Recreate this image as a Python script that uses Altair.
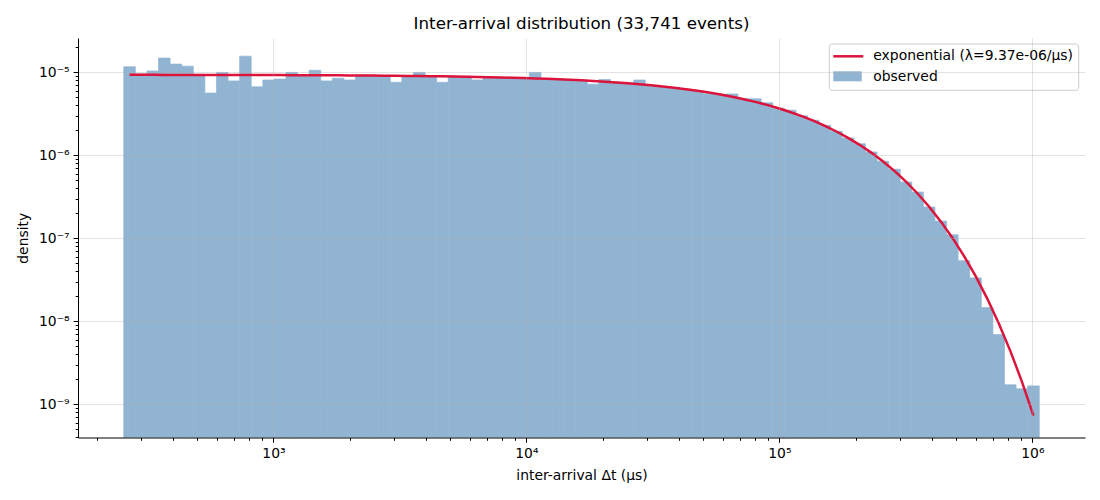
import numpy as np
import pandas as pd
import altair as alt

# ---------------- data ----------------
N_BINS = 79
EDGE_LO = 256.0        # left edge of first bin (µs)
EDGE_HI = 1.065e6      # right edge of last bin (µs)
LAMBDA = 9.37e-6       # fitted rate (1/µs), from the legend

density = [
    1.17e-5, 9.6e-6, 1.04e-5, 1.49e-5, 1.26e-5, 1.19e-5, 9.5e-6, 5.64e-6, 1.0e-5, 7.9e-6,
    1.57e-5, 6.7e-6, 8.1e-6, 8.3e-6, 1.0e-5, 9.4e-6, 1.06e-5, 7.9e-6, 8.5e-6, 8.1e-6,
    9.3e-6, 9.2e-6, 9.2e-6, 7.6e-6, 8.8e-6, 1.0e-5, 9.1e-6, 7.6e-6, 8.9e-6, 9.0e-6,
    8.1e-6, 8.8e-6, 8.7e-6, 8.7e-6, 8.6e-6, 1.0e-5, 8.4e-6, 8.3e-6, 8.1e-6, 8.0e-6,
    7.2e-6, 8.2e-6, 7.6e-6, 7.4e-6, 8.1e-6, 7.0e-6, 6.65e-6, 6.5e-6, 6.3e-6, 6.0e-6,
    5.52e-6, 5.4e-6, 5.5e-6, 4.8e-6, 4.8e-6, 4.3e-6, 3.7e-6, 3.5e-6, 3.0e-6, 2.65e-6,
    2.3e-6, 1.95e-6, 1.62e-6, 1.38e-6, 1.1e-6, 8.5e-7, 6.8e-7, 4.77e-7, 3.61e-7, 2.38e-7,
    1.61e-7, 1.10e-7, 5.37e-8, 3.33e-8, 1.46e-8, 6.9e-9, 1.71e-9, 1.53e-9, 1.66e-9,
]

TITLE = "Inter-arrival distribution (33,741 events)"
X_TITLE = "inter-arrival Δt (µs)"
Y_TITLE = "density"
LINE_LABEL = "exponential (λ=9.37e-06/µs)"
BAR_LABEL = "observed"

X_DOMAIN = [168.8, 1.615e6]
Y_DOMAIN = [3.96e-10, 2.6e-5]

# ---------------- derived tables ----------------
edges = np.logspace(np.log10(EDGE_LO), np.log10(EDGE_HI), N_BINS + 1)
centers = np.sqrt(edges[:-1] * edges[1:])
bars = pd.DataFrame({"lo": edges[:-1], "hi": edges[1:], "dens": density,
                     "base": [1e-12] * N_BINS})
fit = pd.DataFrame({"t": centers, "f": LAMBDA * np.exp(-LAMBDA * centers)})

FONT = "DejaVu Sans"
BAR_COLOR = "#91b4d2"
SUP = str.maketrans("-0123456789", "⁻⁰¹²³⁴⁵⁶⁷⁸⁹")
MAJOR = "abs(log(datum.value)/LN10 - round(log(datum.value)/LN10)) < 0.001"


def label_expr(exps):
    s = ""
    for e in exps:
        s += f"round(log(datum.value)/LN10) == {e} ? '10{str(e).translate(SUP)}' : "
    s += "''"
    return f"({MAJOR}) ? ({s}) : ''"


def ticks(lo_e, hi_e, dom):
    vals = []
    for e in range(lo_e, hi_e + 1):
        for m in range(1, 10):
            v = float(f"{m}e{e}")
            if dom[0] <= v <= dom[1]:
                vals.append(v)
    return vals


def make_axis(vals, exps, title, **kw):
    return alt.Axis(
        values=vals, labelExpr=label_expr(exps), title=title,
        grid=True,
        gridColor="#b0b0b0",
        gridOpacity={"condition": {"test": MAJOR, "value": 0.35}, "value": 0},
        tickSize={"condition": {"test": MAJOR, "value": 4.9}, "value": 2.8},
        tickColor="black", domainColor="black", tickWidth=1, domainWidth=1,
        labelColor="black", labelFont=FONT, labelFontSize=13.9,
        titleFont=FONT, titleFontSize=13.9, titleFontWeight="normal", titleColor="black",
        labelOverlap=False, labelFlush=False, zindex=1, **kw)


x_scale = alt.Scale(type="log", domain=X_DOMAIN, nice=False, zero=False)
y_scale = alt.Scale(type="log", domain=Y_DOMAIN, nice=False, zero=False)

bar_layer = alt.Chart(bars).mark_rect(color=BAR_COLOR, stroke=BAR_COLOR, strokeWidth=0.7,
                                      clip=True).encode(
    x=alt.X("lo:Q", scale=x_scale,
            axis=make_axis(ticks(2, 6, X_DOMAIN), [3, 4, 5, 6], X_TITLE,
                           labelPadding=4, titlePadding=8)),
    x2="hi:Q",
    y=alt.Y("dens:Q", scale=y_scale,
            axis=make_axis(ticks(-10, -5, Y_DOMAIN), [-9, -8, -7, -6, -5], Y_TITLE,
                           labelPadding=4, titlePadding=8)),
    y2="base:Q",
)

line_layer = alt.Chart(fit).mark_line(color="#dc143c", strokeWidth=2.5, clip=True).encode(
    x=alt.X("t:Q", scale=x_scale),
    y=alt.Y("f:Q", scale=y_scale),
)

one = pd.DataFrame({"a": [0]})
leg_box = alt.Chart(one).mark_rect(fill="white", fillOpacity=0.8, stroke="#cccccc",
                                   strokeWidth=1, cornerRadius=3).encode(
    x=alt.value(751.3), x2=alt.value(1000.7), y=alt.value(6), y2=alt.value(52.3))
leg_line = alt.Chart(one).mark_rule(color="#dc143c", strokeWidth=2.5).encode(
    x=alt.value(755.3), x2=alt.value(785.3), y=alt.value(18.3))
leg_rect = alt.Chart(one).mark_rect(color=BAR_COLOR).encode(
    x=alt.value(755.3), x2=alt.value(783.7), y=alt.value(33.3), y2=alt.value(43.3))
leg_t1 = alt.Chart(one).mark_text(align="left", baseline="middle", font=FONT,
                                  fontSize=13.9, color="black").encode(
    x=alt.value(795.3), y=alt.value(18.3), text=alt.value(LINE_LABEL))
leg_t2 = alt.Chart(one).mark_text(align="left", baseline="middle", font=FONT,
                                  fontSize=13.9, color="black").encode(
    x=alt.value(795.3), y=alt.value(38.6), text=alt.value(BAR_LABEL))

chart = alt.layer(bar_layer, line_layer, leg_box, leg_line, leg_rect, leg_t1, leg_t2).properties(
    width=1007, height=399.5,
    title=alt.TitleParams(TITLE, font=FONT, fontSize=16.7, fontWeight="normal",
                          color="black", offset=5),
    autosize=alt.AutoSizeParams(type="none"),
    padding={"left": 70, "top": 30, "right": 7, "bottom": 50},
).configure_view(stroke=None)

chart.save("out.html", embed_options={"renderer": "svg", "actions": False})
